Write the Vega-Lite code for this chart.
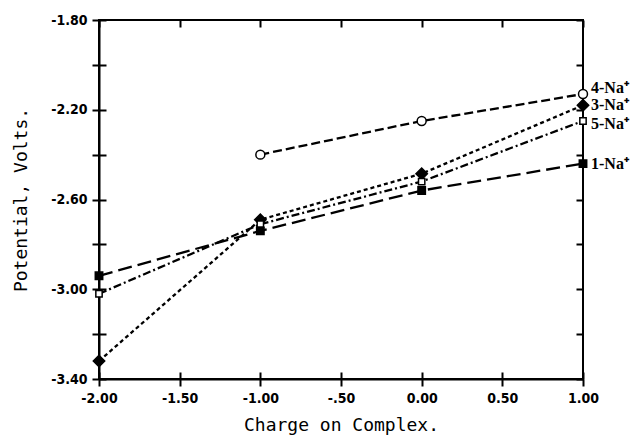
{
  "$schema": "https://vega.github.io/schema/vega-lite/v6.json",
  "autosize": {"type": "none"},
  "width": 484,
  "height": 359,
  "padding": {"left": 99, "top": 20, "right": 58, "bottom": 62},
  "background": "white",
  "config": {
    "view": {"stroke": "black", "strokeWidth": 2},
    "axis": {
      "domainColor": "black", "domainWidth": 2,
      "tickColor": "black", "tickWidth": 2, "tickSize": 7,
      "gridColor": "black", "gridWidth": 2, "gridOpacity": 1,
      "labelColor": "black", "labelFont": "DejaVu Sans Condensed, Liberation Sans Narrow, sans-serif",
      "labelFontWeight": "bold", "labelFontSize": 14,
      "titleColor": "black", "titleFont": "DejaVu Sans Mono", "titleFontWeight": "normal", "titleFontSize": 18
    }
  },
  "data": {"values": [
    {"series": "4", "charge": -1, "potential": -2.40, "label": "4-Na⁺"},
    {"series": "4", "charge": 0, "potential": -2.25, "label": "4-Na⁺"},
    {"series": "4", "charge": 1, "potential": -2.13, "label": "4-Na⁺"},
    {"series": "3", "charge": -2, "potential": -3.32, "label": "3-Na⁺"},
    {"series": "3", "charge": -1, "potential": -2.69, "label": "3-Na⁺"},
    {"series": "3", "charge": 0, "potential": -2.485, "label": "3-Na⁺"},
    {"series": "3", "charge": 1, "potential": -2.18, "label": "3-Na⁺"},
    {"series": "5", "charge": -2, "potential": -3.02, "label": "5-Na⁺"},
    {"series": "5", "charge": -1, "potential": -2.71, "label": "5-Na⁺"},
    {"series": "5", "charge": 0, "potential": -2.52, "label": "5-Na⁺"},
    {"series": "5", "charge": 1, "potential": -2.25, "label": "5-Na⁺"},
    {"series": "1", "charge": -2, "potential": -2.94, "label": "1-Na⁺"},
    {"series": "1", "charge": -1, "potential": -2.74, "label": "1-Na⁺"},
    {"series": "1", "charge": 0, "potential": -2.56, "label": "1-Na⁺"},
    {"series": "1", "charge": 1, "potential": -2.44, "label": "1-Na⁺"}
  ]},
  "encoding": {
    "x": {
      "field": "charge", "type": "quantitative",
      "scale": {"domain": [-2, 1], "nice": false, "zero": false},
      "axis": {
        "title": "Charge on Complex.", "values": [-2, -1.5, -1, -0.5, 0, 0.5, 1],
        "labelExpr": "datum.value == -0.5 ? '-.50' : replace(format(datum.value, '.2f'), '−', '-')",
        "grid": true, "gridDash": [7, 345], "labelPadding": 5, "titlePadding": 11,
        "labelFlush": false
      }
    },
    "y": {
      "field": "potential", "type": "quantitative",
      "scale": {"domain": [-3.4, -1.8], "nice": false, "zero": false},
      "axis": {
        "title": "Potential, Volts.",
        "values": [-3.4, -3.2, -3.0, -2.8, -2.6, -2.4, -2.2, -2.0, -1.8],
        "labelExpr": "abs(round(datum.value*10)) % 4 == 2 ? replace(format(datum.value, '.2f'), '−', '-') : ''",
        "grid": true, "gridDash": [7, 470], "labelPadding": 5, "titlePadding": 20,
        "labelFlush": false
      }
    }
  },
  "layer": [
    {
      "mark": {"type": "line", "color": "black", "strokeWidth": 2.3},
      "encoding": {
        "detail": {"field": "series"},
        "strokeDash": {
          "field": "series", "type": "nominal", "legend": null,
          "scale": {"domain": ["4", "3", "5", "1"], "range": [[9, 4], [4, 3], [8, 3, 2, 3], [14, 6]]}
        }
      }
    },
    {
      "mark": {"type": "point", "stroke": "black", "strokeWidth": 1.5, "opacity": 1},
      "encoding": {
        "shape": {
          "field": "series", "type": "nominal", "legend": null,
          "scale": {"domain": ["4", "3", "5", "1"], "range": ["circle", "diamond", "square", "square"]}
        },
        "fill": {
          "field": "series", "type": "nominal", "legend": null,
          "scale": {"domain": ["4", "3", "5", "1"], "range": ["white", "black", "white", "black"]}
        },
        "size": {
          "field": "series", "type": "nominal", "legend": null,
          "scale": {"type": "ordinal", "domain": ["4", "3", "5", "1"], "range": [80, 130, 40, 55]}
        }
      }
    },
    {
      "transform": [{"filter": "datum.charge == 1 && datum.series == '4'"}],
      "mark": {"type": "text", "align": "left", "baseline": "middle", "dx": 8, "dy": -6, "font": "Liberation Serif", "fontWeight": "bold", "fontSize": 16, "color": "black"},
      "encoding": {"text": {"field": "label"}}
    },
    {
      "transform": [{"filter": "datum.charge == 1 && (datum.series == '3' || datum.series == '1')"}],
      "mark": {"type": "text", "align": "left", "baseline": "middle", "dx": 8, "dy": 0, "font": "Liberation Serif", "fontWeight": "bold", "fontSize": 16, "color": "black"},
      "encoding": {"text": {"field": "label"}}
    },
    {
      "transform": [{"filter": "datum.charge == 1 && datum.series == '5'"}],
      "mark": {"type": "text", "align": "left", "baseline": "middle", "dx": 8, "dy": 3, "font": "Liberation Serif", "fontWeight": "bold", "fontSize": 16, "color": "black"},
      "encoding": {"text": {"field": "label"}}
    }
  ]
}
